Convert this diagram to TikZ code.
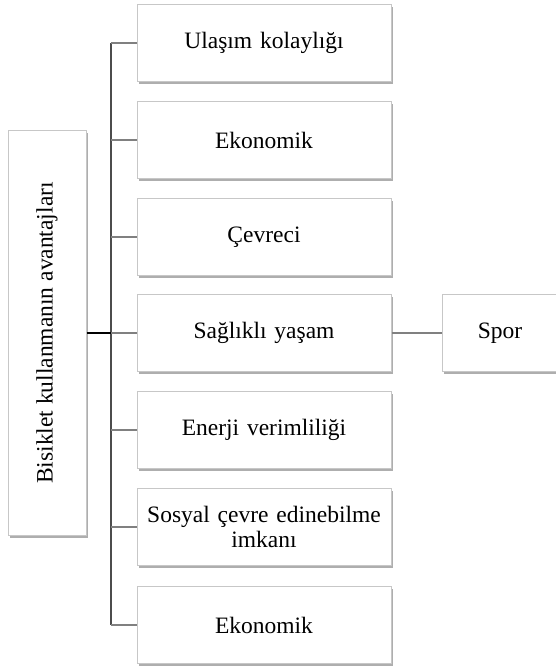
\documentclass[tikz,border=0pt]{standalone}
\usepackage{fontspec}
\setmainfont{Liberation Serif}
\usetikzlibrary{shadows}
\begin{document}
\begin{tikzpicture}[x=1pt,y=-1pt,
  box/.style={draw=black!22, line width=1pt, fill=white, inner sep=2pt,
    drop shadow={shadow xshift=1.5pt, shadow yshift=-2.5pt, fill=black!45, opacity=0.7},
    font=\fontsize{23.5}{25}\selectfont, align=center},
  child/.style={box, minimum width=254pt, minimum height=77pt, text width=248pt},
  trunk/.style={draw=black!70, line width=1.3pt},
  branch/.style={draw=black!50, line width=1.3pt}]
\useasboundingbox (0,0) rectangle (555,670);
\node[box, rotate=90, minimum width=405pt, minimum height=78pt] (root) at (47,333) {Bisiklet kullanmanın avantajları};
\node[child] (c1) at (264,43) {Ulaşım kolaylığı};
\node[child] (c2) at (264,140) {Ekonomik};
\node[child] (c3) at (264,237) {Çevreci};
\node[child] (c4) at (264,333) {Sağlıklı yaşam};
\node[child] (c5) at (264,430) {Enerji verimliliği};
\node[child] (c6) at (264,527) {Sosyal çevre edinebilme\\imkanı};
\node[child] (c7) at (264,625) {Ekonomik};
\node[box, minimum width=116pt, minimum height=77pt] (spor) at (500,333) {Spor};
\coordinate (j) at (111,333);
\draw[trunk] (c1.west -| j) -- (c7.west -| j);
\foreach \n in {c1,c2,c3,c4,c5,c6,c7} {
  \draw[branch] (\n.west) -- (\n.west -| j);
}
\draw[draw=black, line width=1.3pt] (j -| root.south) -- (j);
\draw[branch] (c4.east) -- (spor.west);
\end{tikzpicture}
\end{document}
